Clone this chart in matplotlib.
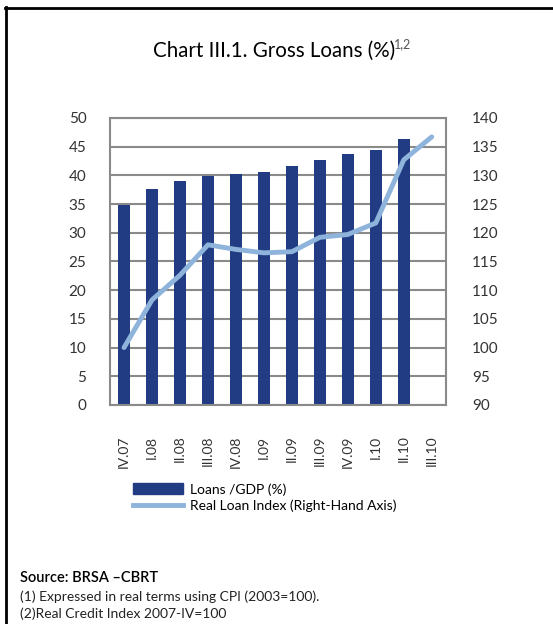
import matplotlib.pyplot as plt
from matplotlib.lines import Line2D
from matplotlib.patches import Patch

plt.rcParams["font.family"] = ["Lato", "DejaVu Sans"]

quarters = ["IV.07", "I.08", "II.08", "III.08", "IV.08", "I.09", "II.09",
            "III.09", "IV.09", "I.10", "II.10", "III.10"]
loans_gdp = [34.9, 37.7, 39.1, 39.8, 40.2, 40.5, 41.6, 42.6, 43.7, 44.4, 46.4]
real_loan_index = [100.0, 108.3, 112.6, 117.9, 117.1, 116.5, 116.7, 119.2,
                   119.7, 121.7, 132.7, 136.7]

bar_color = "#213c83"
line_color = "#8fb4dc"
grid_color = "#8a8a8a"

fig = plt.figure(figsize=(5.53, 6.24), dpi=100)
ax = fig.add_axes([0.199, 0.351, 0.607, 0.460])
x = list(range(len(quarters)))

ax.bar(x[:len(loans_gdp)], loans_gdp, width=0.42, color=bar_color, zorder=2)
ax.set_ylim(0, 50)
ax.set_yticks(range(0, 51, 5))
ax.set_xlim(-0.5, len(quarters) - 0.5)
ax.set_xticks(x)
ax.set_xticklabels(quarters, rotation=90, fontsize=10, color="#333333")
ax.yaxis.grid(True, color=grid_color, linewidth=1.5, zorder=0)
ax.set_axisbelow(True)
ax.tick_params(axis="y", length=0, pad=17, labelsize=11, labelcolor="#333333")
ax.tick_params(axis="x", length=0, pad=22)
for s in ax.spines.values():
    s.set_color(grid_color)
    s.set_linewidth(1.5)

ax2 = ax.twinx()
ax2.plot(x, real_loan_index, color=line_color, linewidth=3.5,
         solid_capstyle="round", solid_joinstyle="round", zorder=3)
ax2.set_ylim(90, 140)
ax2.set_yticks(range(90, 141, 5))
ax2.tick_params(axis="y", length=0, pad=19, labelsize=11, labelcolor="#333333")
for s in ax2.spines.values():
    s.set_visible(False)

fig.text(0.496, 0.918, "Chart III.1. Gross Loans (%)", ha="center",
         va="center", fontsize=14.8)
fig.text(0.712, 0.930, "1,2", ha="left", va="center", fontsize=9,
         color="#555555")

handles = [Patch(color=bar_color),
           Line2D([0], [0], color=line_color, linewidth=3.5)]
fig.legend(handles, ["Loans /GDP (%)", "Real Loan Index (Right-Hand Axis)"],
           loc="upper left", bbox_to_anchor=(0.241, 0.226), frameon=False,
           fontsize=10, handlelength=3.6, handleheight=0.8, labelspacing=0.3,
           handletextpad=0.45, borderpad=0, borderaxespad=0)

fig.text(0.036, 0.074, "Source: BRSA \u2013CBRT", fontsize=10.5, va="center",
         fontweight="semibold")
fig.text(0.036, 0.044, "(1) Expressed in real terms using CPI (2003=100).",
         fontsize=10, va="center", color="#222222")
fig.text(0.036, 0.016, "(2)Real Credit Index 2007-IV=100",
         fontsize=10, va="center", color="#222222")

fig.add_artist(Line2D([0.009, 1.0], [0.987, 0.987], color="black",
                      linewidth=2, transform=fig.transFigure))
fig.add_artist(Line2D([0.011, 0.011], [0.0, 0.988], color="black",
                      linewidth=2, transform=fig.transFigure))

fig.savefig("out.png", dpi=100)
